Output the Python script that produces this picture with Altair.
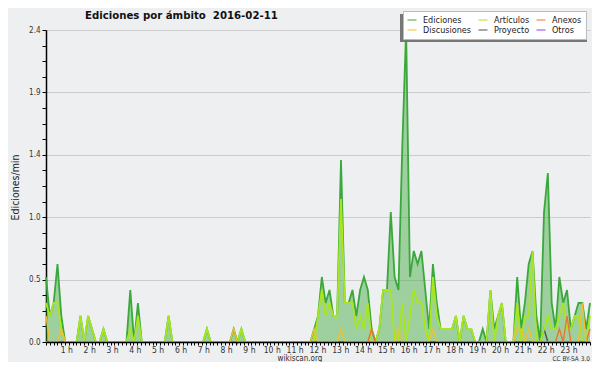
import altair as alt
import pandas as pd

FONT = "DejaVu Sans Condensed, DejaVu Sans, sans-serif"

series_names = ["Ediciones", "Artículos", "Anexos", "Discusiones", "Proyecto", "Otros"]
line_colors = ["#3aa83a", "#a8e620", "#ee7430", "#efc030", "#505050", "#9040e0"]
draw_order = ["Otros", "Proyecto", "Ediciones", "Artículos", "Anexos", "Discusiones"]

# edits per minute, one value per 10-minute bin (143 bins)
edits = [
    0.5, 0.2, 0.3, 0.6, 0.2, 0.0, 0.0, 0.0, 0.0, 0.2, 0.0, 0.2,
    0.1, 0.0, 0.0, 0.1, 0.0, 0.0, 0.0, 0.0, 0.0, 0.0, 0.4, 0.0,
    0.3, 0.0, 0.0, 0.0, 0.0, 0.0, 0.0, 0.0, 0.2, 0.0, 0.0, 0.0,
    0.0, 0.0, 0.0, 0.0, 0.0, 0.0, 0.1, 0.0, 0.0, 0.0, 0.0, 0.0,
    0.0, 0.1, 0.0, 0.1, 0.0, 0.0, 0.0, 0.0, 0.0, 0.0, 0.0, 0.0,
    0.0, 0.0, 0.0, 0.0, 0.0, 0.0, 0.0, 0.0, 0.0, 0.0, 0.1, 0.2,
    0.5, 0.3, 0.4, 0.2, 0.2, 1.4, 0.3, 0.3, 0.4, 0.2, 0.4, 0.5,
    0.4, 0.1, 0.0, 0.1, 0.4, 0.4, 1.0, 0.5, 0.4, 1.5, 2.4, 0.5,
    0.7, 0.6, 0.7, 0.4, 0.1, 0.6, 0.3, 0.1, 0.1, 0.1, 0.1, 0.2,
    0.0, 0.2, 0.1, 0.1, 0.0, 0.0, 0.1, 0.0, 0.4, 0.1, 0.2, 0.3,
    0.0, 0.0, 0.0, 0.5, 0.1, 0.3, 0.6, 0.7, 0.2, 0.0, 1.0, 1.3,
    0.3, 0.1, 0.5, 0.3, 0.4, 0.1, 0.2, 0.3, 0.3, 0.1, 0.3,
]
articulos = [
    0.3, 0.2, 0.3, 0.3, 0.1, 0.0, 0.0, 0.0, 0.0, 0.2, 0.0, 0.2,
    0.1, 0.0, 0.0, 0.1, 0.0, 0.0, 0.0, 0.0, 0.0, 0.0, 0.1, 0.0,
    0.2, 0.0, 0.0, 0.0, 0.0, 0.0, 0.0, 0.0, 0.2, 0.0, 0.0, 0.0,
    0.0, 0.0, 0.0, 0.0, 0.0, 0.0, 0.1, 0.0, 0.0, 0.0, 0.0, 0.0,
    0.0, 0.0, 0.0, 0.1, 0.0, 0.0, 0.0, 0.0, 0.0, 0.0, 0.0, 0.0,
    0.0, 0.0, 0.0, 0.0, 0.0, 0.0, 0.0, 0.0, 0.0, 0.0, 0.0, 0.2,
    0.4, 0.2, 0.3, 0.2, 0.2, 1.1, 0.3, 0.3, 0.3, 0.1, 0.2, 0.1,
    0.3, 0.0, 0.0, 0.1, 0.4, 0.4, 0.4, 0.0, 0.0, 0.3, 0.0, 0.2,
    0.4, 0.3, 0.3, 0.1, 0.0, 0.5, 0.2, 0.1, 0.1, 0.1, 0.1, 0.2,
    0.0, 0.2, 0.1, 0.1, 0.0, 0.0, 0.0, 0.0, 0.4, 0.0, 0.2, 0.3,
    0.0, 0.0, 0.0, 0.3, 0.0, 0.2, 0.2, 0.7, 0.0, 0.0, 0.1, 0.2,
    0.1, 0.1, 0.2, 0.3, 0.1, 0.1, 0.2, 0.2, 0.0, 0.0, 0.2,
]
anexos = [
    0.0, 0.0, 0.0, 0.0, 0.0, 0.0, 0.0, 0.0, 0.0, 0.0, 0.0, 0.0,
    0.0, 0.0, 0.0, 0.0, 0.0, 0.0, 0.0, 0.0, 0.0, 0.0, 0.0, 0.0,
    0.0, 0.0, 0.0, 0.0, 0.0, 0.0, 0.0, 0.0, 0.0, 0.0, 0.0, 0.0,
    0.0, 0.0, 0.0, 0.0, 0.0, 0.0, 0.0, 0.0, 0.0, 0.0, 0.0, 0.0,
    0.0, 0.0, 0.0, 0.0, 0.0, 0.0, 0.0, 0.0, 0.0, 0.0, 0.0, 0.0,
    0.0, 0.0, 0.0, 0.0, 0.0, 0.0, 0.0, 0.0, 0.0, 0.0, 0.0, 0.0,
    0.0, 0.0, 0.0, 0.0, 0.0, 0.0, 0.0, 0.0, 0.0, 0.0, 0.0, 0.0,
    0.0, 0.1, 0.0, 0.0, 0.0, 0.0, 0.0, 0.0, 0.0, 0.0, 0.0, 0.0,
    0.0, 0.0, 0.0, 0.0, 0.0, 0.0, 0.0, 0.0, 0.0, 0.0, 0.0, 0.0,
    0.0, 0.0, 0.0, 0.0, 0.0, 0.0, 0.0, 0.0, 0.0, 0.0, 0.0, 0.0,
    0.0, 0.0, 0.0, 0.0, 0.0, 0.0, 0.0, 0.0, 0.0, 0.0, 0.0, 0.0,
    0.0, 0.0, 0.1, 0.0, 0.2, 0.0, 0.0, 0.0, 0.0, 0.0, 0.1,
]
discusiones = [
    0.2, 0.0, 0.0, 0.0, 0.1, 0.0, 0.0, 0.0, 0.0, 0.0, 0.0, 0.0,
    0.0, 0.0, 0.0, 0.0, 0.0, 0.0, 0.0, 0.0, 0.0, 0.0, 0.0, 0.0,
    0.0, 0.0, 0.0, 0.0, 0.0, 0.0, 0.0, 0.0, 0.0, 0.0, 0.0, 0.0,
    0.0, 0.0, 0.0, 0.0, 0.0, 0.0, 0.0, 0.0, 0.0, 0.0, 0.0, 0.0,
    0.0, 0.1, 0.0, 0.0, 0.0, 0.0, 0.0, 0.0, 0.0, 0.0, 0.0, 0.0,
    0.0, 0.0, 0.0, 0.0, 0.0, 0.0, 0.0, 0.0, 0.0, 0.0, 0.1, 0.0,
    0.0, 0.0, 0.0, 0.0, 0.0, 0.1, 0.0, 0.0, 0.0, 0.0, 0.0, 0.0,
    0.0, 0.0, 0.0, 0.0, 0.0, 0.0, 0.0, 0.0, 0.1, 0.0, 0.0, 0.0,
    0.0, 0.0, 0.0, 0.0, 0.0, 0.1, 0.0, 0.0, 0.0, 0.0, 0.0, 0.0,
    0.0, 0.0, 0.0, 0.0, 0.0, 0.0, 0.0, 0.0, 0.0, 0.0, 0.0, 0.0,
    0.0, 0.0, 0.0, 0.1, 0.1, 0.0, 0.1, 0.0, 0.0, 0.0, 0.0, 0.0,
    0.0, 0.0, 0.0, 0.0, 0.0, 0.0, 0.0, 0.0, 0.3, 0.0, 0.0,
]
proyecto = [
    0.0, 0.0, 0.0, 0.0, 0.0, 0.0, 0.0, 0.0, 0.0, 0.0, 0.0, 0.0,
    0.0, 0.0, 0.0, 0.0, 0.0, 0.0, 0.0, 0.0, 0.0, 0.0, 0.0, 0.0,
    0.0, 0.0, 0.0, 0.0, 0.0, 0.0, 0.0, 0.0, 0.0, 0.0, 0.0, 0.0,
    0.0, 0.0, 0.0, 0.0, 0.0, 0.0, 0.0, 0.0, 0.0, 0.0, 0.0, 0.0,
    0.0, 0.0, 0.0, 0.0, 0.0, 0.0, 0.0, 0.0, 0.0, 0.0, 0.0, 0.0,
    0.0, 0.0, 0.0, 0.0, 0.0, 0.0, 0.0, 0.0, 0.0, 0.0, 0.0, 0.0,
    0.0, 0.0, 0.0, 0.0, 0.0, 0.0, 0.0, 0.0, 0.0, 0.0, 0.0, 0.0,
    0.0, 0.0, 0.0, 0.0, 0.0, 0.0, 0.0, 0.0, 0.0, 0.0, 0.0, 0.0,
    0.0, 0.0, 0.0, 0.0, 0.0, 0.0, 0.0, 0.0, 0.0, 0.0, 0.0, 0.0,
    0.0, 0.0, 0.0, 0.0, 0.0, 0.0, 0.0, 0.0, 0.0, 0.0, 0.0, 0.0,
    0.0, 0.0, 0.0, 0.0, 0.0, 0.0, 0.0, 0.0, 0.0, 0.0, 0.1, 0.0,
    0.0, 0.0, 0.0, 0.0, 0.0, 0.0, 0.0, 0.0, 0.0, 0.0, 0.0,
]
otros = [
    0.0, 0.0, 0.0, 0.0, 0.0, 0.0, 0.0, 0.0, 0.0, 0.0, 0.0, 0.0,
    0.0, 0.0, 0.0, 0.0, 0.0, 0.0, 0.0, 0.0, 0.0, 0.0, 0.0, 0.0,
    0.0, 0.0, 0.0, 0.0, 0.0, 0.0, 0.0, 0.0, 0.0, 0.0, 0.0, 0.0,
    0.0, 0.0, 0.0, 0.0, 0.0, 0.0, 0.0, 0.0, 0.0, 0.0, 0.0, 0.0,
    0.0, 0.0, 0.0, 0.0, 0.0, 0.0, 0.0, 0.0, 0.0, 0.0, 0.0, 0.0,
    0.0, 0.0, 0.0, 0.0, 0.0, 0.0, 0.0, 0.0, 0.0, 0.0, 0.0, 0.0,
    0.0, 0.0, 0.0, 0.0, 0.0, 0.0, 0.0, 0.0, 0.0, 0.0, 0.0, 0.0,
    0.0, 0.0, 0.0, 0.0, 0.0, 0.0, 0.0, 0.0, 0.0, 0.0, 0.0, 0.0,
    0.0, 0.0, 0.0, 0.0, 0.0, 0.0, 0.0, 0.0, 0.0, 0.0, 0.0, 0.0,
    0.0, 0.0, 0.0, 0.0, 0.0, 0.0, 0.0, 0.0, 0.0, 0.0, 0.0, 0.0,
    0.0, 0.0, 0.0, 0.0, 0.0, 0.0, 0.0, 0.0, 0.0, 0.0, 0.0, 0.0,
    0.0, 0.0, 0.0, 0.0, 0.0, 0.0, 0.0, 0.0, 0.0, 0.0, 0.0,
]

y_tick_values = [0.0, 0.12, 0.24, 0.36, 0.48, 0.6, 0.72, 0.84, 0.96, 1.08, 1.2,
                 1.32, 1.44, 1.56, 1.68, 1.8, 1.92, 2.04, 2.16, 2.28, 2.4]
n_ticks = 144  # 10-minute ticks on the time axis
n_bins = len(edits)

title_text = "Ediciones por ámbito \u00a02016-02-11"
site_text = "wikiscan.org"
license_text = "CC BY-SA 3.0"

values_by_series = {
    "Ediciones": edits, "Artículos": articulos, "Anexos": anexos,
    "Discusiones": discusiones, "Proyecto": proyecto, "Otros": otros,
}
rows = []
for name, vals in values_by_series.items():
    for i, v in enumerate(vals):
        rows.append({"i": i, "serie": name, "v": v})
df = pd.DataFrame(rows)

x_tick_values = [k * (n_bins - 1) / (n_ticks - 1) for k in range(n_ticks)]
kexpr = f"round(datum.value*{n_ticks - 1}/{n_bins - 1})"

x_axis = alt.Axis(
    values=x_tick_values,
    labelExpr=f"({kexpr} % 6 == 0 && {kexpr} > 0) ? ({kexpr}/6) + ' h' : ''",
    tickSize=3, tickColor="black", tickWidth=1,
    domainColor="black", domainWidth=1.5,
    labelFont=FONT, labelFontSize=8.5, labelColor="#333",
    labelPadding=0, labelOffset=-2.5, labelOverlap=False, labelFlush=False,
    labelBound=False, grid=False, title=None, zindex=1,
)
y_axis = alt.Axis(
    values=y_tick_values,
    labelExpr="(round(datum.value*100) % 48 == 0) ? format(datum.value, '.1f') : ''",
    tickSize=4, tickColor="black", domainColor="black", domainWidth=1.5,
    labelFont=FONT, labelFontSize=8, labelColor="#333", labelPadding=2,
    labelOverlap=False, labelFlush=False,
    grid=True,
    gridColor={"condition": {"test": "round(datum.value*100) % 48 == 0", "value": "#cccccc"},
               "value": "transparent"},
    gridWidth=1,
    title="Ediciones/min", titleFont=FONT, titleFontSize=10.5, titleFontWeight="normal",
    titleColor="#222", titleX=-31, titleY=157, titleAlign="center", titleBaseline="middle",
    zindex=0,
)

X = alt.X("i:Q", scale=alt.Scale(domain=[0, n_bins - 1], nice=False, zero=False), axis=x_axis)
Y = alt.Y("v:Q", scale=alt.Scale(domain=[0, 2.4], nice=False), axis=y_axis)

color = alt.Color(
    "serie:N",
    scale=alt.Scale(domain=series_names, range=line_colors),
    legend=alt.Legend(
        title=None, orient="none", legendX=357, legendY=-19, columns=3,
        direction="horizontal",
        symbolType="stroke", symbolSize=81, symbolStrokeWidth=1,
        labelFont=FONT, labelFontSize=9, labelColor="#222", labelOffset=6,
        columnPadding=4, rowPadding=0, padding=4,
        fillColor="white", strokeColor="#bbbbbb",
    ),
)

base = alt.Chart(df)

area = base.transform_filter(alt.datum.serie == "Ediciones").mark_area(
    color="#3cab3c", opacity=0.45, interpolate="linear"
).encode(x=X, y=Y)

layers = [area]
for name in draw_order:
    sw = 1.8 if name in ("Ediciones", "Artículos") else 1.4
    layers.append(
        base.transform_filter(alt.datum.serie == name)
        .mark_line(strokeWidth=sw)
        .encode(x=X, y=Y, color=color)
    )

shadow = alt.Chart(pd.DataFrame({"s": [""]})).mark_rect(color="#777777").encode(
    x=alt.value(354), x2=alt.value(541), y=alt.value(-16), y2=alt.value(12)
)
title = alt.Chart(pd.DataFrame({"t": [title_text]})).mark_text(
    font=FONT, fontSize=11.3, fontWeight="bold", color="#111", align="left", baseline="middle"
).encode(text="t:N", x=alt.value(39), y=alt.value(-14))
site = alt.Chart(pd.DataFrame({"t": [site_text]})).mark_text(
    font=FONT, fontSize=8, color="#333", align="center", baseline="middle"
).encode(text="t:N", x=alt.value(254), y=alt.value(328.5))
lic = alt.Chart(pd.DataFrame({"t": [license_text]})).mark_text(
    font=FONT, fontSize=6.5, color="#333", align="right", baseline="middle"
).encode(text="t:N", x=alt.value(544), y=alt.value(329))

chart = alt.layer(*layers, shadow, title, site, lic).properties(
    width=544, height=312,
    autosize=alt.AutoSizeParams(type="none"),
    padding={"left": 38, "top": 22, "right": 2, "bottom": 20},
    background="#eeeff1",
).configure_view(stroke=None)

chart.save("out.html", embed_options={"renderer": "svg", "actions": False})
